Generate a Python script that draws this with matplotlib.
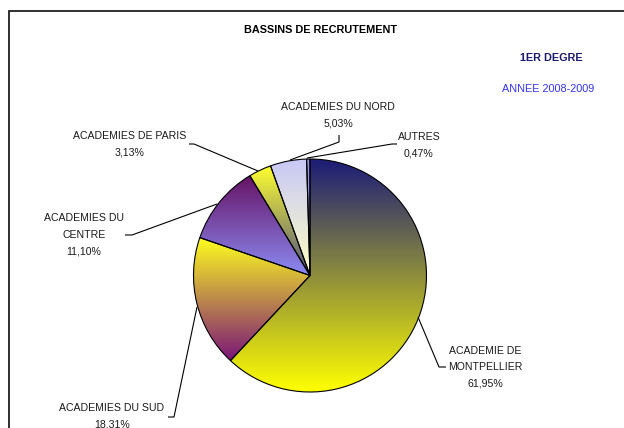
import matplotlib
matplotlib.use("Agg")
import matplotlib.pyplot as plt
import numpy as np
from matplotlib.colors import to_rgb

plt.rcParams.update({
    'font.family': ['Liberation Sans', 'DejaVu Sans'],
    'font.size': 7.6,
})

# data
categories = ["ACADEMIE DE\nMONTPELLIER", "ACADEMIES DU SUD", "ACADEMIES DU\nCENTRE",
              "ACADEMIES DE PARIS", "ACADEMIES DU NORD", "AUTRES"]
shares = [61.95, 18.31, 11.10, 3.13, 5.03, 0.47]

# gradient colours (top -> bottom) for each wedge
grad_top = ["#1c1c78", "#ffff1e", "#661466", "#ffff30", "#c8c8f8", "#9090e8"]
grad_bot = ["#ffff00", "#7a1478", "#8c8cf4", "#4c4c84", "#ffffc4", "#9090e8"]

W, H = 624, 428
fig = plt.figure(figsize=(W / 100, H / 100), dpi=100)
ax = fig.add_axes([0, 0, 1, 1])


def Y(y):
    # pixel row (from top) -> data y
    return H - y


cx, cy, r = 310, 275.5, 116.5
wedges, _ = ax.pie(shares, startangle=90, counterclock=False,
                   center=(cx, Y(cy)), radius=r,
                   wedgeprops=dict(edgecolor='black', linewidth=0.8))

for w, ct, cb in zip(wedges, grad_top, grad_bot):
    ext = w.get_path().get_extents()
    t = np.linspace(0, 1, 256)[:, None, None]
    img = (1 - t) * np.array(to_rgb(ct)) + t * np.array(to_rgb(cb))
    im = ax.imshow(img, extent=[ext.x0, ext.x1, ext.y0, ext.y1], origin='upper',
                   aspect='auto', interpolation='bilinear', zorder=w.get_zorder() - 0.01)
    im.set_clip_path(w)
    w.set_facecolor('none')

# label layout: (center x, first line y) in pixels, and leader line points
label_pos = [(485, 351), (112, 408), (84, 218), (130, 136), (338, 107), (419, 137)]
leaders = [
    [(418, 317), (439, 367), (446, 367)],
    [(197, 307), (174, 417), (168, 417)],
    [(217, 204), (132, 235), (125, 235)],
    [(258, 171), (194, 144), (189, 144)],
    [(290, 160), (339, 142), (339, 135)],
    [(307, 158), (392, 144), (397, 144)],
]

txt_col = "#1a1a1a"
for name, val, (lx, ly), pts in zip(categories, shares, label_pos, leaders):
    lines = name.split("\n") + [f"{val:.2f}".replace('.', ',') + "%"]
    for i, s in enumerate(lines):
        ax.text(lx, Y(ly + i * 16.5), s, ha='center', va='center',
                color=txt_col, fontsize=7.6)
    xs = [p[0] for p in pts]
    ys = [Y(p[1]) for p in pts]
    ax.plot(xs, ys, color='black', lw=0.8, solid_capstyle='butt')

# titles
ax.text(320, Y(30), "BASSINS DE RECRUTEMENT", ha='center', va='center',
        fontsize=7.8, fontweight='bold', color='black')
ax.text(551, Y(58), "1ER DEGRE", ha='center', va='center',
        fontsize=7.8, fontweight='bold', color='#1a1a6e')
ax.text(548, Y(89), "ANNEE 2008-2009", ha='center', va='center',
        fontsize=7.8, color='#3333ee')

# chart frame (cut at right / bottom)
ax.plot([9, 9, W + 5], [Y(H + 5), Y(11), Y(11)], color='#202020', lw=1.3,
        solid_joinstyle='miter')

ax.set_xlim(0, W)
ax.set_ylim(0, H)
ax.set_axis_off()

fig.savefig("out.png", dpi=100)
